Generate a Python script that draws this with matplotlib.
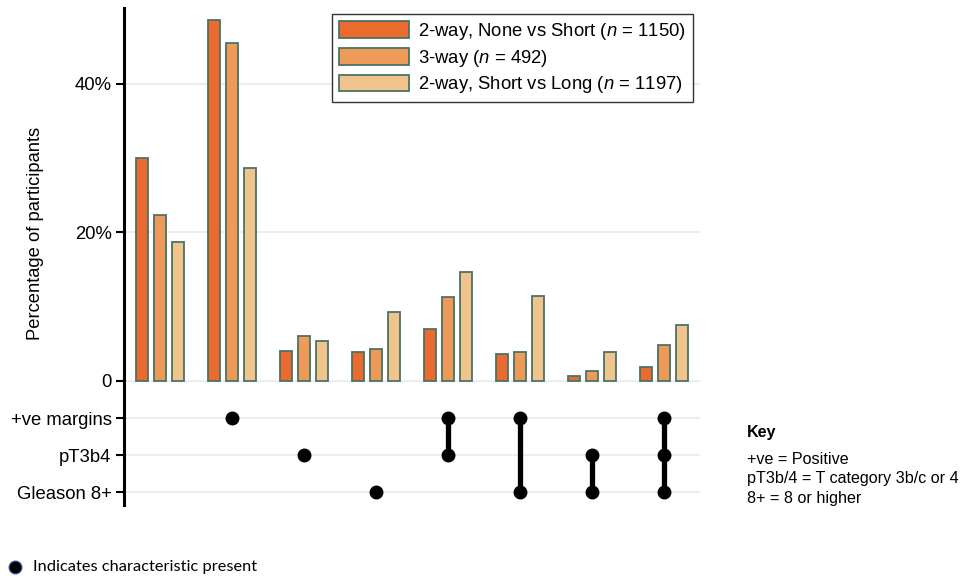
import matplotlib.pyplot as plt
import numpy as np

plt.rcParams['font.family'] = ['Liberation Sans', 'DejaVu Sans']
plt.rcParams['mathtext.fontset'] = 'custom'
plt.rcParams['mathtext.it'] = 'Liberation Sans:italic'
plt.rcParams['mathtext.rm'] = 'Liberation Sans'

series = ['2-way, None vs Short ($\\it{n}$ = 1150)',
          '3-way ($\\it{n}$ = 492)',
          '2-way, Short vs Long ($\\it{n}$ = 1197)']
none_vs_short = [30.0, 48.6, 4.0, 3.9, 7.0, 3.6, 0.6, 1.9]
three_way = [22.4, 45.5, 6.1, 4.3, 11.3, 3.9, 1.3, 4.8]
short_vs_long = [18.7, 28.7, 5.4, 9.3, 14.7, 11.4, 3.9, 7.5]

characteristics = ['+ve margins', 'pT3b4', 'Gleason 8+']
# which characteristics are present in each combination (index into characteristics)
combos = [[], [0], [1], [2], [0, 1], [0, 2], [1, 2], [0, 1, 2]]

colors = ['#eb6a2e', '#ee9a58', '#f0c48c']
edge = '#4a7366'
grid_col = '#e9eef2'
row_y = [-5, -10, -15]

fig = plt.figure(figsize=(9.63, 5.79), dpi=100)
ax = fig.add_axes([124 / 963, 1 - 505 / 579, 576 / 963, 497 / 579])

x = np.arange(len(combos))
w = 0.18
off = 0.25
for i, (vals, c, lab) in enumerate(zip([none_vs_short, three_way, short_vs_long], colors, series)):
    ax.bar(x + (i - 1) * off, vals, width=w, color=c, edgecolor=edge, linewidth=1.3,
           label=lab, zorder=3)

# gridlines
for y in [0, 20, 40] + row_y:
    ax.axhline(y, color=grid_col, linewidth=1.5, zorder=0)

# membership matrix
for xi, members in zip(x, combos):
    if not members:
        continue
    ys = [row_y[m] for m in members]
    if len(ys) > 1:
        ax.plot([xi, xi], [min(ys), max(ys)], color='black', linewidth=3.8, zorder=4,
                solid_capstyle='butt')
    ax.plot([xi] * len(ys), ys, 'o', color='black', markersize=9, zorder=5)

ax.set_xlim(-0.5, 7.5)
ax.set_ylim(-16.7, 50.2)
ax.set_xticks([])
ax.set_yticks([0, 20, 40] + row_y)
ax.set_yticklabels(['0', '20%', '40%'] + characteristics)
ax.tick_params(axis='y', length=6, width=1.5, labelsize=13.3, pad=3)
for s in ['top', 'right', 'bottom']:
    ax.spines[s].set_visible(False)
ax.spines['left'].set_linewidth(2.2)

leg = ax.legend(loc='upper right', bbox_to_anchor=(693 / 963, 1 - 14 / 579),
                bbox_transform=fig.transFigure, fontsize=13.3, frameon=True,
                fancybox=False, edgecolor='black', handlelength=3.8, handleheight=1.0,
                borderpad=0.38, labelspacing=0.3, handletextpad=0.5, borderaxespad=0)
leg.get_frame().set_linewidth(1.0)

fig.text(35 / 963, 1 - 233 / 579, 'Percentage of participants', rotation=90,
         ha='center', va='center', fontsize=13.2)

fig.text(747 / 963, 1 - 432 / 579, 'Key', fontsize=11.6, fontweight='bold',
         ha='left', va='center')
key_lines = ['+ve = Positive', 'pT3b/4 = T category 3b/c or 4', '8+ = 8 or higher']
for k, line in enumerate(key_lines):
    fig.text(747 / 963, 1 - (459 + 20 * k) / 579, line, fontsize=11.6,
             ha='left', va='center')

fig.add_artist(plt.Line2D([15 / 963], [1 - 567 / 579], marker='o', markersize=9,
                          markerfacecolor='black', markeredgecolor='#2b4a8a',
                          transform=fig.transFigure))
fig.text(33 / 963, 1 - 567 / 579, 'Indicates characteristic present', fontsize=11.8,
         family=['Lato', 'DejaVu Sans'], ha='left', va='center')

fig.savefig('out.png', dpi=100)
